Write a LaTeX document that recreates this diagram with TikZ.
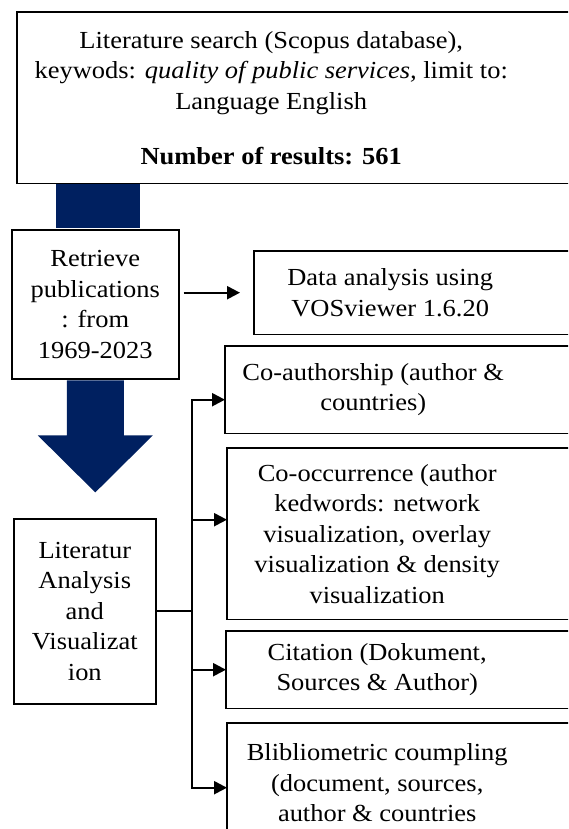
\documentclass[tikz,border=0pt]{standalone}
\usepackage{fontspec}
\setmainfont{Liberation Serif}[FakeStretch=1.08]
\usetikzlibrary{arrows.meta}

\definecolor{navy}{RGB}{0,32,96}

\tikzset{
  box/.style={draw, line width=1.6pt, align=center, inner sep=0pt, anchor=north west},
  cutbox/.style={align=center, inner sep=0pt, anchor=north west},
  frame/.style={line width=1.6pt},
  link/.style={line width=2.2pt, -{Triangle[length=13pt,width=13pt]}},
}

\begin{document}
\begin{tikzpicture}[x=1pt, y=-1pt, font=\fontsize{24.5}{30.5}\selectfont]

\def \ext {120} % right-hand boxes run past the page edge

\useasboundingbox (0,0) rectangle (568,829);
\clip (0,0) rectangle (568,829);

% search box
\node[cutbox, minimum width=508pt, minimum height=171pt] (search) at (17,12)
  {Literature search (Scopus database),\\
   keywods: \textit{quality of public services,} limit to:\\
   Language English\\[24.5pt]
   \textbf{Number of results: 561}};

\node[box, minimum width=167pt, minimum height=149pt] (retrieve) at (11,229)
  {Retrieve\\ publications\\ : from\\ 1969-2023};

\node[cutbox, minimum width=272pt, minimum height=83pt] (data) at (254,251)
  {Data analysis using\\ VOSviewer 1.6.20};

\node[box, minimum width=142pt, minimum height=185pt] (lit) at (13,518)
  {Literatur\\ Analysis\\ and\\ Visualizat\\ ion};

% analysis boxes
\node[cutbox, minimum width=296pt, minimum height=87pt] (coauth) at (225,346)
  {Co-authorship (author \&\\ countries)};
\node[cutbox, minimum width=300pt, minimum height=171pt] (cooc) at (227,448)
  {Co-occurrence (author\\ kedwords: network\\ visualization, overlay\\
   visualization \& density\\ visualization};
\node[cutbox, minimum width=302pt, minimum height=77pt] (cite) at (226,631)
  {Citation (Dokument,\\ Sources \& Author)};
\node[cutbox, minimum width=300pt, minimum height=119pt] (biblio) at (227,723)
  {Blibliometric coumpling\\ (document, sources,\\ author \& countries};

\foreach \b in {search,data,coauth,cooc,cite,biblio}
  \draw[frame] (\b.south west) rectangle ([xshift=\ext pt]\b.north east);

% block arrows
\fill[navy] ([xshift=39pt,yshift=-0.8pt]search.south west)
  rectangle ([xshift=45pt,yshift=0.8pt]retrieve.north);
\fill[navy] ([xshift=-28.5pt,yshift=-0.8pt]retrieve.south) -- ++(0,55) -- ++(-29,0)
  -- ++(57.5,57) -- ++(57.5,-57) -- ++(-29,0) -- ++(0,-55) -- cycle;

\draw[link, shorten <=4pt, shorten >=14pt] (retrieve.east |- data.west) -- (data.west);

\coordinate (fork) at ([xshift=35pt]lit.east);
\draw[line width=2.2pt] (lit.east) -- (fork);
\foreach \b/\dy in {coauth/-10, cooc/14, cite/0, biblio/-5}
  \draw[link] (fork) |- ([yshift=\dy pt]\b.west);

\end{tikzpicture}
\end{document}
